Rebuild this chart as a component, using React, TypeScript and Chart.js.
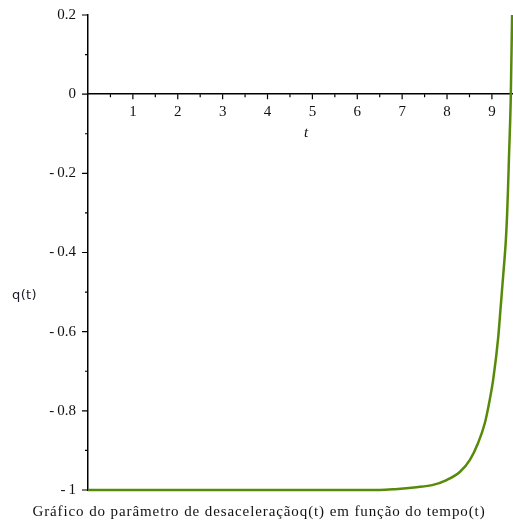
import React, { useEffect, useRef } from "react";
import { Chart, registerables } from "chart.js";

Chart.register(...registerables);

const tValues = [0, 1, 2, 3, 4, 5, 6, 6.5, 6.84, 7.32, 7.69, 7.99, 8.29, 8.51, 8.69, 8.84, 8.95, 9.03, 9.14, 9.19, 9.25, 9.31, 9.34, 9.36, 9.38, 9.42, 9.45];
const qValues = [-1, -1, -1, -1, -1, -1, -1, -1, -0.998, -0.993, -0.987, -0.975, -0.954, -0.924, -0.882, -0.832, -0.773, -0.72, -0.615, -0.545, -0.46, -0.37, -0.3, -0.235, -0.16, -0.01, 0.2];

const xMajorTicks = [1, 2, 3, 4, 5, 6, 7, 8, 9];
const xMinorTicks = [0.5, 1.5, 2.5, 3.5, 4.5, 5.5, 6.5, 7.5, 8.5];
const yMajorTicks = [0.2, 0, -0.2, -0.4, -0.6, -0.8, -1];
const yMinorTicks = [0.1, -0.1, -0.3, -0.5, -0.7, -0.9];

const xMin = 0;
const xMax = 9.47;
const yMin = -1;
const yMax = 0.2;

const yLabelText = "q(t)";
const xLabelText = "t";
const captionText = "Gráfico do parâmetro de desaceleraçãoq(t) em função do tempo(t)";

const SERIF = "'Liberation Serif', 'Times New Roman', serif";
const SANS = "'DejaVu Sans', 'Noto Sans', sans-serif";

const tickPlugin = {
  id: "mapleTicks",
  afterDraw(chart: any) {
    const ctx = chart.ctx;
    const xs = chart.scales.x;
    const ys = chart.scales.y;
    const y0 = ys.getPixelForValue(0);
    const xl = xs.getPixelForValue(0);
    ctx.save();
    ctx.strokeStyle = "#000";
    ctx.lineWidth = 1.2;
    ctx.beginPath();
    xMajorTicks.forEach((v) => {
      const p = xs.getPixelForValue(v);
      ctx.moveTo(p, y0);
      ctx.lineTo(p, y0 + 5);
    });
    xMinorTicks.forEach((v) => {
      const p = xs.getPixelForValue(v);
      ctx.moveTo(p, y0);
      ctx.lineTo(p, y0 + 3);
    });
    yMajorTicks.forEach((v) => {
      const p = ys.getPixelForValue(v);
      ctx.moveTo(xl, p);
      ctx.lineTo(xl - 6, p);
    });
    yMinorTicks.forEach((v) => {
      const p = ys.getPixelForValue(v);
      ctx.moveTo(xl, p);
      ctx.lineTo(xl - 3, p);
    });
    ctx.stroke();

    ctx.fillStyle = "#1a1a2a";
    ctx.textBaseline = "middle";
    ctx.textAlign = "left";
    ctx.font = "13px " + SANS;
    try { (ctx as any).letterSpacing = "0.4px"; } catch (e) {}
    ctx.fillText(yLabelText, 12, 296);

    try { (ctx as any).letterSpacing = "0px"; } catch (e) {}
    ctx.textAlign = "center";
    ctx.font = "italic 15px " + SERIF;
    ctx.fillStyle = "#111";
    ctx.fillText(xLabelText, 306, 133);

    ctx.font = "15px " + SERIF;
    try { (ctx as any).letterSpacing = "0.9px"; } catch (e) {}
    ctx.fillText(captionText, 259, 512);
    ctx.restore();
  },
};

export default function App() {
  const ref = useRef<HTMLCanvasElement | null>(null);
  useEffect(() => {
    if (!ref.current) return;
    const chart = new Chart(ref.current, {
      type: "line",
      data: {
        datasets: [
          {
            data: tValues.map((t, i) => ({ x: t, y: qValues[i] })),
            borderColor: "#588a0a",
            borderWidth: 2.5,
            pointRadius: 0,
            cubicInterpolationMode: "monotone",
            clip: false as any,
            fill: false,
          },
        ],
      },
      options: {
        animation: false,
        responsive: false,
        maintainAspectRatio: false,
        layout: { padding: { left: 0, right: 0, top: 13, bottom: 34 } },
        plugins: {
          legend: { display: false },
          tooltip: { enabled: false },
          title: { display: false },
        },
        scales: {
          x: {
            type: "linear",
            position: { y: 0 } as any,
            min: xMin,
            max: xMax,
            afterBuildTicks: (s: any) => {
              s.ticks = xMajorTicks.map((v) => ({ value: v }));
            },
            grid: { drawOnChartArea: false, drawTicks: true, tickLength: 5, tickColor: "transparent" },
            border: { display: true, color: "#000", width: 1.5 },
            ticks: {
              color: "#111",
              padding: 4,
              maxRotation: 0,
              font: { family: SERIF, size: 15 },
              callback: (v: any) => String(v),
            },
          },
          y: {
            type: "linear",
            position: "left",
            min: yMin,
            max: yMax,
            afterBuildTicks: (s: any) => {
              s.ticks = yMajorTicks.map((v) => ({ value: v }));
            },
            afterFit: (s: any) => {
              s.width = 88;
            },
            grid: { drawOnChartArea: false, drawTicks: true, tickLength: 6, tickColor: "transparent" },
            border: { display: true, color: "#000", width: 1.5 },
            ticks: {
              color: "#111",
              padding: 6,
              font: { family: SERIF, size: 15 },
              callback: (v: any) => {
                const n = Number(v);
                if (Math.abs(n) < 1e-9) return "0";
                const a = Math.round(Math.abs(n) * 10) / 10;
                return n < 0 ? "-\u2009" + String(a) : String(a);
              },
            },
          },
        },
      },
      plugins: [tickPlugin],
    });
    return () => chart.destroy();
  }, []);
  return (
    <div style={{ position: "fixed", left: 0, top: 0, width: 513, height: 524, background: "#fff" }}>
      <canvas ref={ref} width={513} height={524} style={{ width: 513, height: 524 }} />
    </div>
  );
}
